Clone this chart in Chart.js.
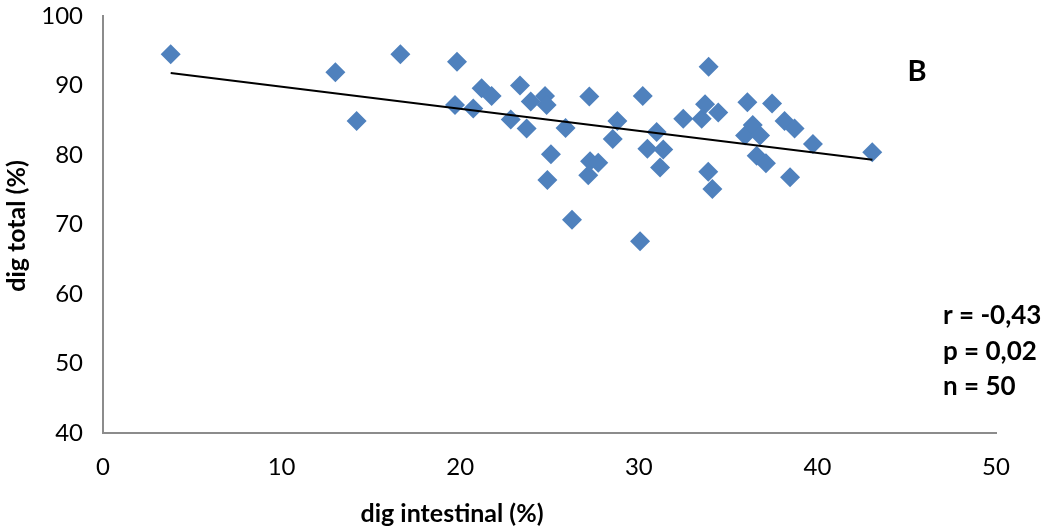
<!DOCTYPE html>
<html>
<head>
<meta charset="utf-8">
<script src="https://cdn.jsdelivr.net/npm/chart.js@4/dist/chart.umd.min.js"></script>
<style>
  html, body { margin: 0; padding: 0; background: #fff; }
  #wrap { width: 1044px; height: 527px; position: relative; }
</style>
</head>
<body>
<div id="wrap"><canvas id="digChart" width="1044" height="527"></canvas></div>
<script>
const digIntestinal = [3.79, 13.01, 14.20, 16.65, 19.82, 19.71, 20.73, 21.20, 21.76, 22.83,
  23.35, 23.72, 23.95, 24.75, 24.84, 24.88, 25.08, 25.90, 26.26, 27.17,
  27.23, 27.27, 27.73, 28.54, 28.80, 30.07, 30.22, 30.48, 31.00, 31.19,
  31.37, 32.49, 33.52, 33.71, 33.91, 33.89, 34.12, 34.45, 35.95, 36.08,
  36.38, 36.79, 36.60, 37.12, 37.46, 38.16, 38.72, 38.47, 39.75, 43.07];
const digTotal = [94.5, 91.9, 84.9, 94.5, 93.4, 87.2, 86.7, 89.6, 88.5, 85.1,
  90.0, 83.8, 87.7, 88.5, 87.2, 76.4, 80.1, 83.9, 70.7, 77.1,
  88.4, 79.1, 78.9, 82.3, 84.9, 67.6, 88.5, 80.9, 83.3, 78.2,
  80.8, 85.2, 85.2, 87.3, 92.7, 77.6, 75.1, 86.1, 82.8, 87.6,
  84.3, 82.8, 79.9, 78.8, 87.4, 84.9, 83.8, 76.8, 81.6, 80.4];
const trendX = [3.79, 43.08];
const trendY = [91.8, 79.3];
const xTicks = [0, 10, 20, 30, 40, 50];
const yTicks = [40, 50, 60, 70, 80, 90, 100];
const statLines = ['r = -0,43', 'p = 0,02', 'n = 50'];

const points = digIntestinal.map((x, i) => ({ x: x, y: digTotal[i] }));
const trend = trendX.map((x, i) => ({ x: x, y: trendY[i] }));

const labelsPlugin = {
  id: 'labelsPlugin',
  afterDraw(chart) {
    const ctx = chart.ctx;
    ctx.save();
    ctx.fillStyle = '#000';
    ctx.textBaseline = 'middle';
    ctx.font = 'bold 25px Lato';
    ctx.textAlign = 'center';
    ctx.fillText('dig intestinal (%)', 452, 514);
    ctx.save();
    ctx.translate(17, 226);
    ctx.rotate(-Math.PI / 2);
    ctx.fillText('dig total (%)', 0, 0);
    ctx.restore();
    ctx.font = 'bold 29px Lato';
    ctx.fillText('B', 917, 72);
    ctx.font = 'bold 26px Lato';
    ctx.textAlign = 'left';
    statLines.forEach((t, i) => ctx.fillText(t, 943, 316 + i * 35.5));
    ctx.restore();
  }
};

new Chart(document.getElementById('digChart').getContext('2d'), {
  type: 'scatter',
  data: {
    datasets: [{
      label: 'dig total',
      data: points,
      pointStyle: 'rectRot',
      pointRadius: 10,
      pointHoverRadius: 10,
      pointBorderWidth: 0,
      backgroundColor: '#4F81BD',
      borderColor: '#4F81BD',
      order: 2
    }, {
      label: 'trend',
      data: trend,
      showLine: true,
      pointRadius: 0,
      borderColor: '#000',
      borderWidth: 2,
      fill: false,
      order: 1
    }]
  },
  options: {
    responsive: false,
    animation: false,
    layout: { padding: { left: 0, right: 48, top: 16, bottom: 0 } },
    plugins: { legend: { display: false }, tooltip: { enabled: false } },
    scales: {
      x: {
        type: 'linear',
        min: 0, max: 50,
        afterBuildTicks: (scale) => { scale.ticks = xTicks.map(v => ({ value: v })); },
        afterFit: (scale) => { scale.height = 94; scale.paddingLeft = 0; scale.paddingRight = 0; },
        grid: { display: false, drawTicks: false },
        border: { display: true, color: '#8c8c8c', width: 2 },
        ticks: { color: '#000', font: { family: 'Lato', size: 24 }, padding: 20 }
      },
      y: {
        type: 'linear',
        min: 40, max: 100,
        afterBuildTicks: (scale) => { scale.ticks = yTicks.map(v => ({ value: v })); },
        afterFit: (scale) => { scale.width = 103; scale.paddingTop = 0; scale.paddingBottom = 0; },
        grid: { display: false, drawTicks: false },
        border: { display: true, color: '#8c8c8c', width: 2 },
        ticks: { color: '#000', font: { family: 'Lato', size: 24 }, padding: 20 }
      }
    }
  },
  plugins: [labelsPlugin]
});
</script>
</body>
</html>
